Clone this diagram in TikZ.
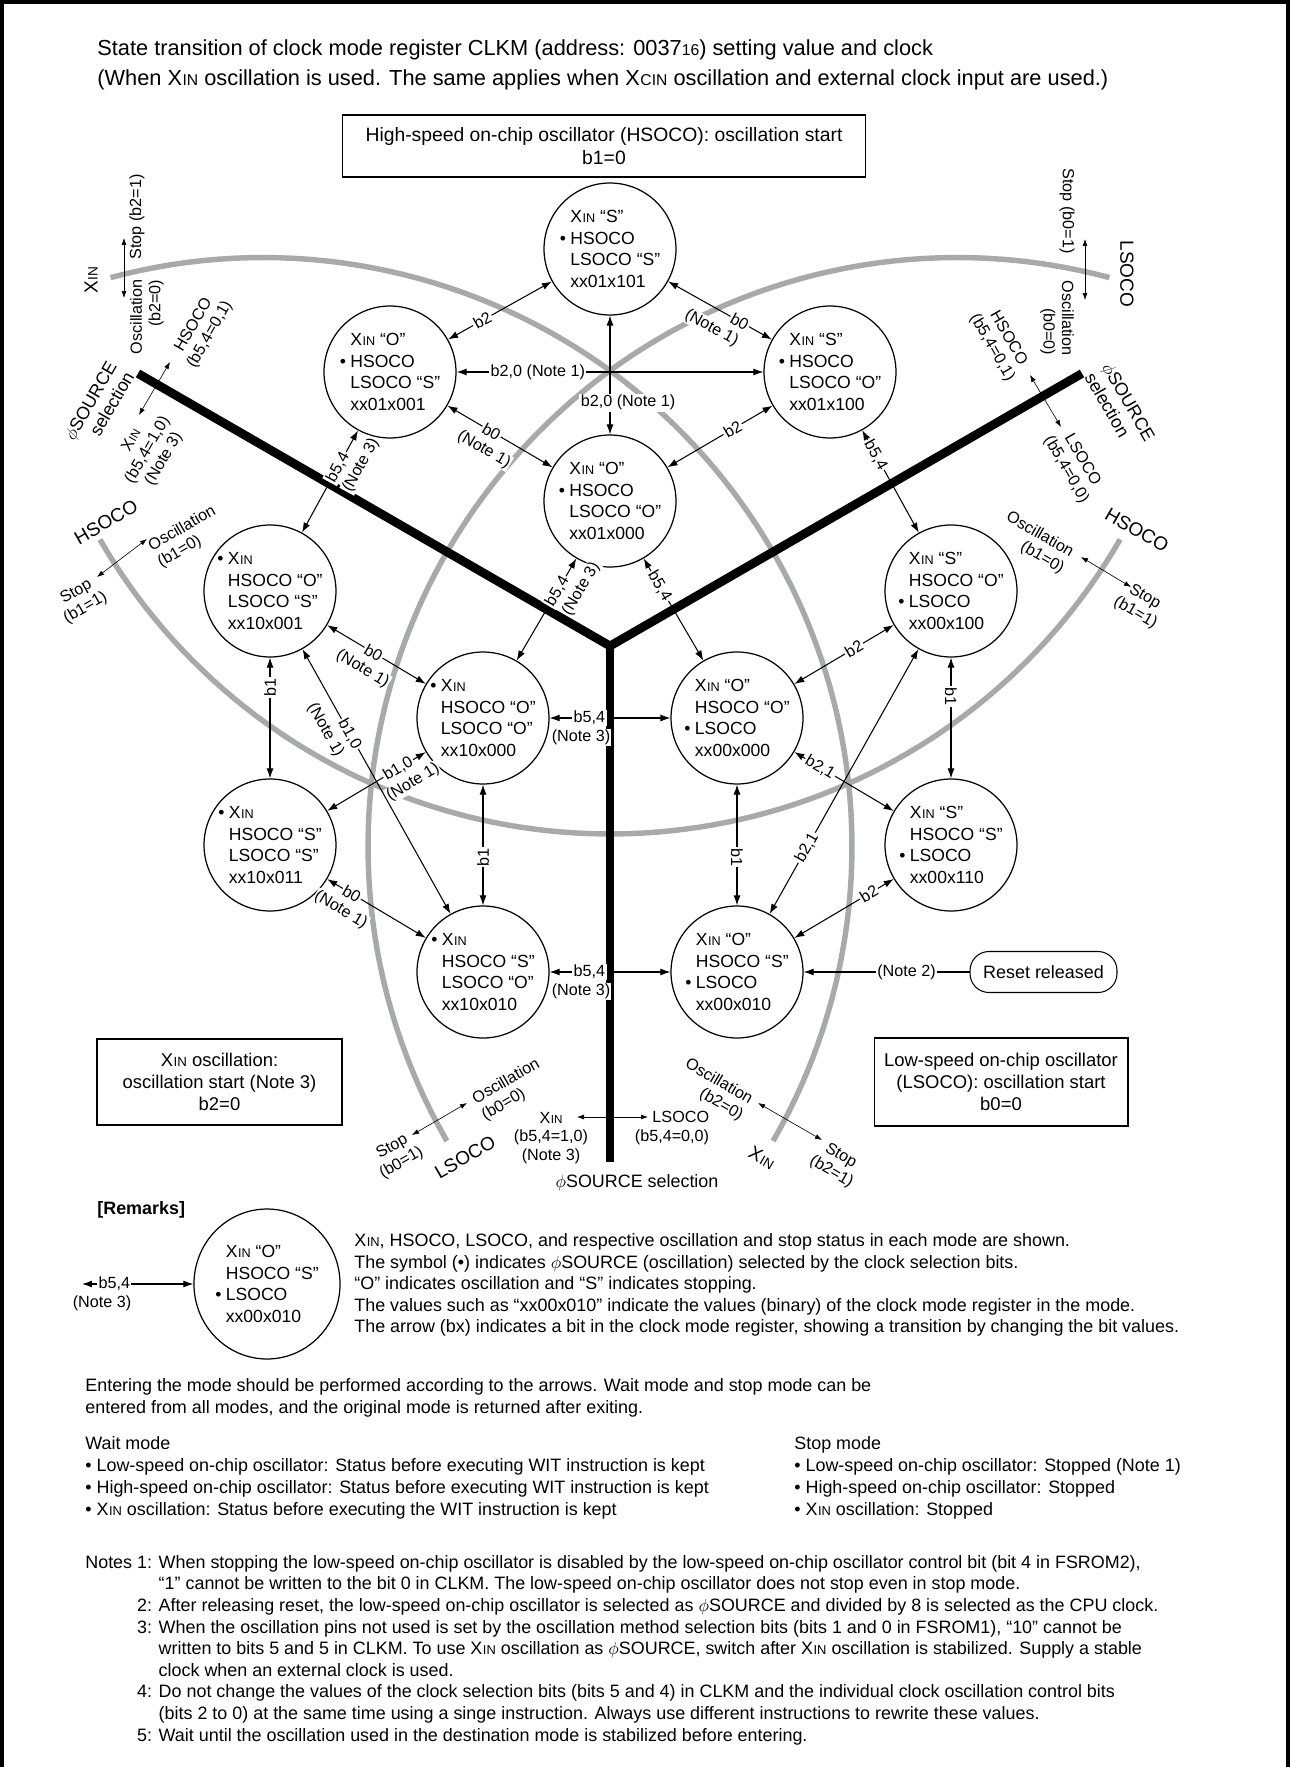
\documentclass[tikz,border=0pt]{standalone}
\usepackage{fontspec}
\setmainfont{Liberation Sans}
\usepackage{graphicx}
\usetikzlibrary{arrows.meta,positioning,calc,shapes.geometric}
\definecolor{ringgray}{RGB}{167,169,172}

\newcommand{\xin}{X\kern.3pt\scalebox{.72}{IN}}
\newcommand{\xcin}{X\kern.3pt\scalebox{.72}{CIN}}
\newcommand{\bul}{\makebox[.6em][l]{\textbullet}}
\newcommand{\nob}{\hspace*{.6em}}
\newcommand{\fsrc}{$\phi$SOURCE}

\tikzset{
  mode/.style={circle, draw, fill=white, line width=.7pt, minimum size=2.64cm,
    inner sep=0pt, align=left, font=\fontsize{10}{12.3}\selectfont},
  twoway/.style={{Latex[length=2mm,width=1.4mm]}-{Latex[length=2mm,width=1.4mm]}, line width=.6pt},
  oneway/.style={-{Latex[length=2mm,width=1.4mm]}, line width=.6pt},
  hint/.style={{Latex[length=1.4mm,width=1mm]}-{Latex[length=1.4mm,width=1mm]}, line width=.35pt},
  bit/.style={fill=white, inner sep=.8pt, font=\fontsize{9.2}{10}\selectfont},
  note/.style={fill=white, inner sep=.5pt, below=6pt, font=\fontsize{9.2}{10}\selectfont},
  tag/.style={inner sep=0pt, align=center, font=\fontsize{9.2}{10.6}\selectfont},
  osc/.style={inner sep=0pt, font=\fontsize{10.8}{12}\selectfont},
  ring/.style={line width=3.1pt, ringgray},
  selbar/.style={line width=5pt},
  startbox/.style={draw, line width=.6pt, align=center, inner sep=0pt,
    font=\fontsize{10.5}{12.4}\selectfont},
  body/.style={anchor=west, align=left, inner sep=0pt, font=\fontsize{10.2}{12.3}\selectfont},
}

\begin{document}
\begin{tikzpicture}[x=0.02cm, y=-0.02cm]
  \useasboundingbox (0,0) rectangle (1290,1767);
  % frame
  \draw[line width=2.4pt] (2,1767) -- (2,2) -- (1288,2) -- (1288,1767);

  % heading
  \node[anchor=west, align=left, inner sep=0pt, font=\fontsize{12.4}{17}\selectfont] (title) at (97,65)
    {State transition of clock mode register CLKM (address: 0037\scalebox{.72}{16}) setting value and clock\\
     (When \xin\ oscillation is used. The same applies when \xcin\ oscillation and external clock input are used.)};
  \node[startbox, minimum width=10.48cm, minimum height=1.24cm, font=\fontsize{11}{13}\selectfont] (hsstart) at (604,146)
    {High-speed on-chip oscillator (HSOCO): oscillation start\\b1=0};

  % oscillator rings: XIN, LSOCO, HSOCO
  \draw[ring] plot[domain=-105:30, samples=90] ({263+589*cos(\x)}, {846.5+589*sin(\x)});
  \draw[ring] plot[domain=-210:-75, samples=90] ({957+589*cos(\x)}, {846.5+589*sin(\x)});
  \draw[ring] plot[domain=30:150, samples=90] ({610+589*cos(\x)}, {245+589*sin(\x)});

  % phiSOURCE selection
  \coordinate (hub) at (610,646);
  \coordinate (armL) at (138,373.5);
  \coordinate (armR) at (1082,373.5);
  \coordinate (armB) at (610,1162);
  \draw[selbar] (armL) -- (hub) -- (armR);
  \draw[selbar] (hub) -- (armB);

  % HSOCO modes
  \node[mode] (T1) at (610,249) {\nob\xin\ “S”\\\bul HSOCO\\\nob LSOCO “S”\\\nob xx01x101};
  \node[mode] (T2) at (390,372) {\nob\xin\ “O”\\\bul HSOCO\\\nob LSOCO “S”\\\nob xx01x001};
  \node[mode] (T3) at (830,372) {\nob\xin\ “S”\\\bul HSOCO\\\nob LSOCO “O”\\\nob xx01x100};
  \node[mode] (T4) at (610,501) {\nob\xin\ “O”\\\bul HSOCO\\\nob LSOCO “O”\\\nob xx01x000};
  % XIN modes
  \node[mode] (L1) at (270,591) {\bul\xin\\\nob HSOCO “O”\\\nob LSOCO “S”\\\nob xx10x001};
  \node[mode] (L2) at (483,718) {\bul\xin\\\nob HSOCO “O”\\\nob LSOCO “O”\\\nob xx10x000};
  \node[mode] (L3) at (270,845) {\bul\xin\\\nob HSOCO “S”\\\nob LSOCO “S”\\\nob xx10x011};
  \node[mode] (L4) at (483,972) {\bul\xin\\\nob HSOCO “S”\\\nob LSOCO “O”\\\nob xx10x010};
  % LSOCO modes
  \node[mode] (R1) at (951,591) {\nob\xin\ “S”\\\nob HSOCO “O”\\\bul LSOCO\\\nob xx00x100};
  \node[mode] (R2) at (737,718) {\nob\xin\ “O”\\\nob HSOCO “O”\\\bul LSOCO\\\nob xx00x000};
  \node[mode] (R3) at (951,845) {\nob\xin\ “S”\\\nob HSOCO “S”\\\bul LSOCO\\\nob xx00x110};
  \node[mode] (R4) at (737,972) {\nob\xin\ “O”\\\nob HSOCO “S”\\\bul LSOCO\\\nob xx00x010};

  % transitions inside the HSOCO group
  \coordinate (X) at (610,372);
  \draw[oneway] (X) -- node[bit, pos=.47] {b2,0 (Note 1)} (T2);
  \draw[oneway] (X) -- (T3);
  \draw[oneway] (X) -- (T1);
  \draw[oneway] (X) -- node[bit, pos=.49, xshift=.36cm] {b2,0 (Note 1)} (T4);
  \draw[twoway] (T2) -- node[bit, sloped, pos=.33] {b2} (T1);
  \draw[twoway] (T1) -- node[bit, sloped, pos=.69] {b0} node[note, sloped, pos=.51] {(Note 1)} (T3);
  \draw[twoway] (T2) -- node[bit, sloped, pos=.42] {b0} node[note, sloped, pos=.44] {(Note 1)} (T4);
  \draw[twoway] (T3) -- node[bit, sloped, pos=.38] {b2} (T4);
  % HSOCO group to the other groups
  \draw[twoway] (T2) -- node[bit, sloped, pos=.36] {b5,4} node[note, sloped, pos=.25] {(Note 3)} (L1);
  \draw[twoway] (T4) -- node[bit, sloped, pos=.32] {b5,4} node[note, sloped, pos=.20] {(Note 3)} (L2);
  \draw[twoway] (T3) -- node[bit, sloped, pos=.24] {b5,4} (R1);
  \draw[twoway] (T4) -- node[bit, sloped, pos=.27] {b5,4} (R2);
  % XIN group
  \draw[twoway] (L1) -- node[bit, sloped, pos=.47] {b0} node[note, sloped, pos=.46] {(Note 1)} (L2);
  \draw[twoway] (L3) -- node[bit, sloped, pos=.25] {b0} node[note, sloped, pos=.24] {(Note 1)} (L4);
  \draw[twoway] (L3) -- node[bit, sloped, pos=.72] {b1,0} node[note, sloped, pos=.77] {(Note 1)} (L2);
  \draw[twoway] (L1) -- node[bit, sloped, pos=.32] {b1,0} node[note, sloped, pos=.27] {(Note 1)} (L4);
  \draw[twoway] (L1) -- node[bit, rotate=90, pos=.25] {b1} (L3);
  \draw[twoway] (L2) -- node[bit, rotate=90, pos=.6] {b1} (L4);
  % LSOCO group
  \draw[twoway] (R2) -- node[bit, sloped, pos=.60] {b2} (R1);
  \draw[twoway] (R2) -- node[bit, sloped, pos=.26] {b2,1} (R3);
  \draw[twoway] (R4) -- node[bit, sloped, pos=.25] {b2,1} (R1);
  \draw[twoway] (R4) -- node[bit, sloped, pos=.75] {b2} (R3);
  \draw[twoway] (R1) -- node[bit, rotate=-90, pos=.32] {b1} (R3);
  \draw[twoway] (R2) -- node[bit, rotate=-90, pos=.6] {b1} (R4);
  % across the selector
  \draw[twoway] (L2) -- node[bit, pos=.33] {b5,4} node[note, pos=.26] {(Note 3)} (R2);
  \draw[twoway] (L4) -- node[bit, pos=.33] {b5,4} node[note, pos=.26] {(Note 3)} (R4);

  % reset
  \node[draw, rounded corners=.38cm, line width=.6pt, minimum width=2.94cm, minimum height=.82cm,
    font=\fontsize{10.2}{12}\selectfont] (rst) at (1043.5,972) {Reset released};
  \draw[oneway] (rst) -- node[bit, pos=.38] {(Note 2)} (R4);

  % start boxes
  \node[startbox, minimum width=4.9cm, minimum height=1.72cm] (xinstart) at (219.5,1082)
    {\xin\ oscillation:\\oscillation start (Note 3)\\b2=0};
  \node[startbox, minimum width=5.08cm, minimum height=1.76cm] (lsstart) at (1001,1082)
    {Low-speed on-chip oscillator\\(LSOCO): oscillation start\\b0=0};

  % XIN ring, upper end
  \node[osc, rotate=90] (xinup) at (91,280) {\xin};
  \coordinate (xinup1) at (124,238);
  \coordinate (xinup2) at (124,298);
  \draw[hint] (xinup1) -- (xinup2);
  \node[tag, rotate=90] (xinstop) at (137,217) {Stop (b2=1)};
  \node[tag, rotate=90, align=right] (xinosc) at (147,317) {Oscillation\\(b2=0)};
  % LSOCO ring, upper end
  \node[osc, rotate=-90] (lsup) at (1127,274) {LSOCO};
  \coordinate (lsup1) at (1085,239);
  \coordinate (lsup2) at (1085,300);
  \draw[hint] (lsup1) -- (lsup2);
  \node[tag, rotate=-90] (lsstop) at (1067,211) {Stop (b0=1)};
  \node[tag, rotate=-90, align=right] (lsosc) at (1057,318) {Oscillation\\(b0=0)};
  % selector, left arm
  \node[tag, rotate=60, align=right, font=\fontsize{10.2}{11.5}\selectfont] (selL) at (99,406) {\fsrc\\selection};
  \node[tag, rotate=60] (selLhs) at (202,330) {HSOCO\\(b5,4=0,1)};
  \coordinate (selL1) at (139,415);
  \coordinate (selL2) at (170,362);
  \draw[hint] (selL1) -- (selL2);
  \node[tag, rotate=60] (selLxin) at (148,450) {\xin\\(b5,4=1,0)\\(Note 3)};
  % selector, right arm
  \node[tag, rotate=-60, align=left, font=\fontsize{10.2}{11.5}\selectfont] (selR) at (1120,407) {\fsrc\\selection};
  \node[tag, rotate=-60] (selRhs) at (1000,343) {HSOCO\\(b5,4=0,1)};
  \coordinate (selR1) at (1030,375);
  \coordinate (selR2) at (1061,427);
  \draw[hint] (selR1) -- (selR2);
  \node[tag, rotate=-60] (selRls) at (1074,465) {LSOCO\\(b5,4=0,0)};
  % HSOCO ring, both ends
  \node[osc, rotate=30] (hsL) at (106,522) {HSOCO};
  \node[tag, rotate=30, align=left] (hsLosc) at (187,537) {Oscillation\\(b1=0)};
  \node[tag, rotate=30] (hsLstop) at (81,600) {Stop\\(b1=1)};
  \coordinate (hsL1) at (97,577);
  \coordinate (hsL2) at (147,539);
  \draw[hint] (hsL1) -- (hsL2);
  \node[osc, rotate=-30] (hsR) at (1137,530) {HSOCO};
  \node[tag, rotate=-30, align=right] (hsRosc) at (1035,543) {Oscillation\\(b1=0)};
  \node[tag, rotate=-30] (hsRstop) at (1140,605) {Stop\\(b1=1)};
  \coordinate (hsR1) at (1081,557);
  \coordinate (hsR2) at (1131,587);
  \draw[hint] (hsR1) -- (hsR2);
  % LSOCO ring, lower end
  \node[osc, rotate=30] (lsdn) at (465,1157) {LSOCO};
  \node[tag, rotate=30, align=left] (lsdnosc) at (511,1090) {Oscillation\\(b0=0)};
  \node[tag, rotate=30] (lsdnstop) at (397,1155) {Stop\\(b0=1)};
  \coordinate (lsdn1) at (412,1135);
  \coordinate (lsdn2) at (467,1103);
  \draw[hint] (lsdn1) -- (lsdn2);
  % XIN ring, lower end
  \node[osc, rotate=-30] (xindn) at (762,1158) {\xin};
  \node[tag, rotate=-30, align=right] (xindnosc) at (714,1090) {Oscillation\\(b2=0)};
  \node[tag, rotate=-30] (xindnstop) at (836,1164) {Stop\\(b2=1)};
  \coordinate (xindn1) at (758,1103);
  \coordinate (xindn2) at (822,1140);
  \draw[hint] (xindn1) -- (xindn2);
  % selector, bottom arm
  \node[tag] (selBxin) at (551,1138) {\xin\\(b5,4=1,0)\\(Note 3)};
  \coordinate (selB1) at (577,1117);
  \coordinate (selB2) at (648,1117);
  \draw[hint] (selB1) -- (selB2);
  \node[tag, align=right] (selBls) at (672,1128) {LSOCO\\(b5,4=0,0)};
  \node[inner sep=0pt, font=\fontsize{10.2}{12}\selectfont] (selB) at (637,1183) {\fsrc\ selection};

  % remarks
  \node[anchor=west, inner sep=0pt, font=\bfseries\fontsize{10.2}{12}\selectfont] (remhead) at (97,1210) {[Remarks]};
  \node[mode, ellipse, minimum width=2.8cm, minimum height=3cm] (ex) at (267,1284)
    {\nob\xin\ “O”\\\nob HSOCO “S”\\\bul LSOCO\\\nob xx00x010};
  \coordinate (exL) at (82,1284);
  \draw[twoway] (exL) -- node[bit, pos=.29] {b5,4} node[note, pos=.18] {(Note 3)} (ex);
  \node[body, font=\fontsize{10.2}{12.2}\selectfont] (remtext) at (354,1285)
    {\xin, HSOCO, LSOCO, and respective oscillation and stop status in each mode are shown.\\
     The symbol (\textbullet) indicates \fsrc\ (oscillation) selected by the clock selection bits.\\
     “O” indicates oscillation and “S” indicates stopping.\\
     The values such as “xx00x010” indicate the values (binary) of the clock mode register in the mode.\\
     The arrow (bx) indicates a bit in the clock mode register, showing a transition by changing the bit values.};

  \node[body] (entering) at (85,1398)
    {Entering the mode should be performed according to the arrows. Wait mode and stop mode can be\\
     entered from all modes, and the original mode is returned after exiting.};
  \node[body, font=\fontsize{10.2}{12.5}\selectfont] (waitmode) at (85,1478)
    {Wait mode\\
     \textbullet\ Low-speed on-chip oscillator: Status before executing WIT instruction is kept\\
     \textbullet\ High-speed on-chip oscillator: Status before executing WIT instruction is kept\\
     \textbullet\ \xin\ oscillation: Status before executing the WIT instruction is kept};
  \node[body, font=\fontsize{10.2}{12.5}\selectfont] (stopmode) at (794,1478)
    {Stop mode\\
     \textbullet\ Low-speed on-chip oscillator: Stopped (Note 1)\\
     \textbullet\ High-speed on-chip oscillator: Stopped\\
     \textbullet\ \xin\ oscillation: Stopped};
  \node[body] (notes) at (85,1650)
    {Notes 1: When stopping the low-speed on-chip oscillator is disabled by the low-speed on-chip oscillator control bit (bit 4 in FSROM2),\\
     \phantom{Notes 1: }“1” cannot be written to the bit 0 in CLKM. The low-speed on-chip oscillator does not stop even in stop mode.\\
     \phantom{Notes }2: After releasing reset, the low-speed on-chip oscillator is selected as \fsrc\ and divided by 8 is selected as the CPU clock.\\
     \phantom{Notes }3: When the oscillation pins not used is set by the oscillation method selection bits (bits 1 and 0 in FSROM1), “10” cannot be\\
     \phantom{Notes 1: }written to bits 5 and 5 in CLKM. To use \xin\ oscillation as \fsrc, switch after \xin\ oscillation is stabilized. Supply a stable\\
     \phantom{Notes 1: }clock when an external clock is used.\\
     \phantom{Notes }4: Do not change the values of the clock selection bits (bits 5 and 4) in CLKM and the individual clock oscillation control bits\\
     \phantom{Notes 1: }(bits 2 to 0) at the same time using a singe instruction. Always use different instructions to rewrite these values.\\
     \phantom{Notes }5: Wait until the oscillation used in the destination mode is stabilized before entering.};
\end{tikzpicture}
\end{document}
